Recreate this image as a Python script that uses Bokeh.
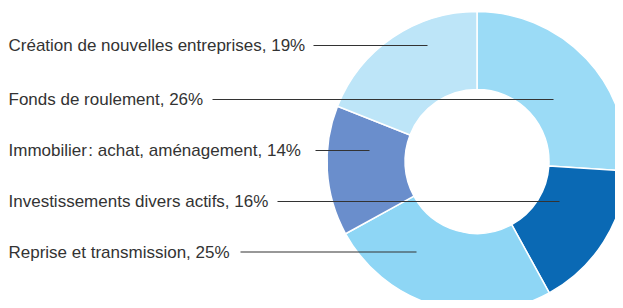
import math
from bokeh.plotting import figure
from bokeh.models import Range1d, ColumnDataSource
from bokeh.core.properties import value
from bokeh.embed import file_html
from bokeh.resources import INLINE

# Data (legend order)
labels = ["Création de nouvelles entreprises", "Fonds de roulement",
          "Immobilier\u200a: achat, aménagement", "Investissements divers actifs",
          "Reprise et transmission"]
shares = [19, 26, 14, 16, 25]
colors = ["#BDE5F8", "#9BDBF6", "#6A8ECC", "#0A69B4", "#8ED6F5"]

# Clockwise slice order from 12 o'clock (indices into the lists above)
slice_order = [1, 3, 4, 2, 0]

# Layout (pixels; y measured upward from the bottom of a 308px canvas)
W, H = 615, 300
cx, cy = 476.5, 147.0
r_out, r_in = 150.0, 72.0
label_x = 8
label_y = [263, 209, 158, 107, 56.5]
leader_start = [313, 212, 315, 277, 240]
leader_end = [427, 553, 369, 559, 416]

p = figure(width=W, height=H, output_backend="svg", toolbar_location=None,
           x_range=Range1d(0, W), y_range=Range1d(308 - H, 308), min_border=0)
p.axis.visible = False
p.grid.visible = False
p.outline_line_color = None
p.background_fill_color = "white"

total = float(sum(shares))
starts, ends, cols = [], [], []
cum = 0.0
for i in slice_order:
    a0 = math.pi / 2 - 2 * math.pi * cum / total
    cum += shares[i]
    a1 = math.pi / 2 - 2 * math.pi * cum / total
    starts.append(a0)
    ends.append(a1)
    cols.append(colors[i])

src = ColumnDataSource(dict(x=[cx] * len(cols), y=[cy] * len(cols),
                            start=starts, end=ends, color=cols))
p.annular_wedge(x="x", y="y", inner_radius=r_in, outer_radius=r_out,
                start_angle="start", end_angle="end", direction="clock",
                fill_color="color", line_color="white", line_width=1.5,
                source=src)

texts = [f"{l}, {s}%" for l, s in zip(labels, shares)]
p.text(x=[label_x] * len(texts), y=label_y, text=texts,
       text_font=value("Liberation Sans"), text_font_size="17px",
       text_color="#333333", text_baseline="middle", text_align="left")

p.segment(x0=leader_start, y0=label_y, x1=leader_end, y1=label_y,
          line_color="#333333", line_width=1.2)

open("out.html", "w").write(file_html(p, INLINE))
